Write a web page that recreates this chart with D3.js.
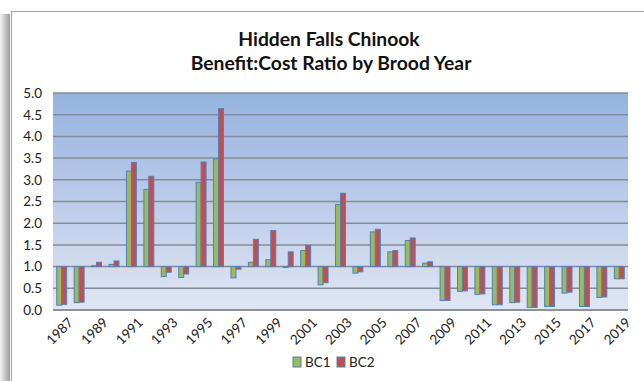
<!DOCTYPE html>
<html>
<head>
<meta charset="utf-8">
<script src="https://cdn.jsdelivr.net/npm/d3@7"></script>
<style>
  html, body { margin: 0; padding: 0; background: #fff; }
  svg { display: block; font-family: Lato, "Open Sans", sans-serif; }
</style>
</head>
<body>
<svg id="chart" width="644" height="381"></svg>
<script>
// Brood years and benefit:cost ratios for the two estimates
const years = d3.range(1987, 2020);
const bc1 = [0.11, 0.17, 1.02, 1.05, 3.20, 2.78, 0.77, 0.75, 2.94, 3.48,
             0.74, 1.10, 1.16, 0.98, 1.37, 0.58, 2.43, 0.85, 1.80, 1.34,
             1.60, 1.08, 0.22, 0.43, 0.36, 0.12, 0.17, 0.06, 0.08, 0.39,
             0.08, 0.29, 0.72];
const bc2 = [0.13, 0.18, 1.10, 1.13, 3.40, 3.08, 0.87, 0.83, 3.41, 4.64,
             0.94, 1.63, 1.83, 1.34, 1.49, 0.63, 2.69, 0.88, 1.86, 1.37,
             1.66, 1.11, 0.22, 0.44, 0.37, 0.12, 0.18, 0.06, 0.08, 0.41,
             0.08, 0.30, 0.72];
const seriesNames = ["BC1", "BC2"];
const seriesColors = ["#9bbb59", "#c0504d"];
const yTicks = [0, 0.5, 1, 1.5, 2, 2.5, 3, 3.5, 4, 4.5, 5];
const xLabels = years.filter(y => (y - 1987) % 2 === 0);
const baseline = 1.0; // bars grow from the 1.0 break-even line

const svg = d3.select("#chart");

// frame with soft shadow on the left
const defs = svg.append("defs");
const shadow = defs.append("linearGradient").attr("id", "shadow")
  .attr("x1", 0).attr("x2", 1).attr("y1", 0).attr("y2", 0);
shadow.append("stop").attr("offset", 0).attr("stop-color", "#f4f4f4");
shadow.append("stop").attr("offset", 0.6).attr("stop-color", "#bdbdbd");
shadow.append("stop").attr("offset", 1).attr("stop-color", "#9a9a9a");
svg.append("rect").attr("x", 0).attr("y", 14).attr("width", 10).attr("height", 367)
  .attr("fill", "url(#shadow)");
svg.append("rect").attr("x", 11.5).attr("y", 11.5).attr("width", 640).attr("height", 380)
  .attr("fill", "#fff").attr("stroke", "#a9a9a9").attr("stroke-width", 1.2);

const plot = { left: 53, right: 628, top: 93, bottom: 310 };

const x = d3.scaleBand().domain(years).range([plot.left, plot.right]).paddingInner(0.43).paddingOuter(0.215);
const xs = d3.scaleBand().domain(seriesNames).range([0, x.bandwidth()]);
const y = d3.scaleLinear().domain([0, 5]).range([plot.bottom, plot.top]);

// plot area gradient
const bg = defs.append("linearGradient").attr("id", "plotbg")
  .attr("x1", 0).attr("x2", 0).attr("y1", 0).attr("y2", 1);
bg.append("stop").attr("offset", 0).attr("stop-color", "#95b3e0");
bg.append("stop").attr("offset", 0.5).attr("stop-color", "#bccbea");
bg.append("stop").attr("offset", 1).attr("stop-color", "#e0e6f3");
svg.append("rect").attr("x", plot.left).attr("y", plot.top)
  .attr("width", plot.right - plot.left).attr("height", plot.bottom - plot.top)
  .attr("fill", "url(#plotbg)");

// gridlines
svg.append("g").selectAll("line").data(yTicks).join("line")
  .attr("x1", plot.left).attr("x2", plot.right)
  .attr("y1", d => y(d)).attr("y2", d => y(d))
  .attr("stroke", "#858b94").attr("stroke-width", 1.5);

// y axis labels
svg.append("g").selectAll("text").data(yTicks).join("text")
  .attr("x", 42).attr("y", d => y(d)).attr("dy", "0.36em")
  .attr("text-anchor", "end").attr("font-size", 13.5).attr("fill", "#222")
  .text(d => d.toFixed(1));

// bars
const rows = years.map((yr, i) => ({ yr, vals: [bc1[i], bc2[i]] }));
const groups = svg.append("g").selectAll("g").data(rows).join("g")
  .attr("transform", d => `translate(${x(d.yr)},0)`);
groups.selectAll("rect").data(d => d.vals.map((v, k) => ({ v, k }))).join("rect")
  .attr("x", d => xs(seriesNames[d.k]))
  .attr("width", xs.bandwidth())
  .attr("y", d => Math.min(y(d.v), y(baseline)))
  .attr("height", d => Math.abs(y(d.v) - y(baseline)))
  .attr("fill", d => seriesColors[d.k])
  .attr("stroke", "#4f81bd").attr("stroke-width", 1);

// bottom axis line
svg.append("line").attr("x1", plot.left).attr("x2", plot.right)
  .attr("y1", plot.bottom).attr("y2", plot.bottom)
  .attr("stroke", "#858b94").attr("stroke-width", 1.5);

// x axis labels (every other year, rotated)
svg.append("g").selectAll("text").data(xLabels).join("text")
  .attr("transform", d => `translate(${x(d) + x.bandwidth() / 2 + 9},${plot.bottom + 10}) rotate(-45)`)
  .attr("text-anchor", "end").attr("dy", "0.35em")
  .attr("font-size", 13.5).attr("fill", "#222")
  .text(d => d);

// title
const title = svg.append("text").attr("text-anchor", "middle")
  .attr("font-weight", "bold").attr("font-size", 19.3).attr("fill", "#111");
title.append("tspan").attr("x", 329).attr("y", 46).text("Hidden Falls Chinook");
title.append("tspan").attr("x", 331).attr("y", 70).text("Benefit:Cost Ratio by Brood Year");

// legend
const legend = svg.append("g").attr("transform", "translate(293,357)");
const items = legend.selectAll("g").data(seriesNames).join("g")
  .attr("transform", (d, i) => `translate(${i * 44},0)`);
items.append("rect").attr("width", 8).attr("height", 10)
  .attr("fill", (d, i) => seriesColors[i]).attr("stroke", "#4f81bd").attr("stroke-width", 1);
items.append("text").attr("x", 12).attr("y", 5).attr("dy", "0.36em")
  .attr("font-size", 13.5).attr("fill", "#222").text(d => d);
</script>
</body>
</html>
